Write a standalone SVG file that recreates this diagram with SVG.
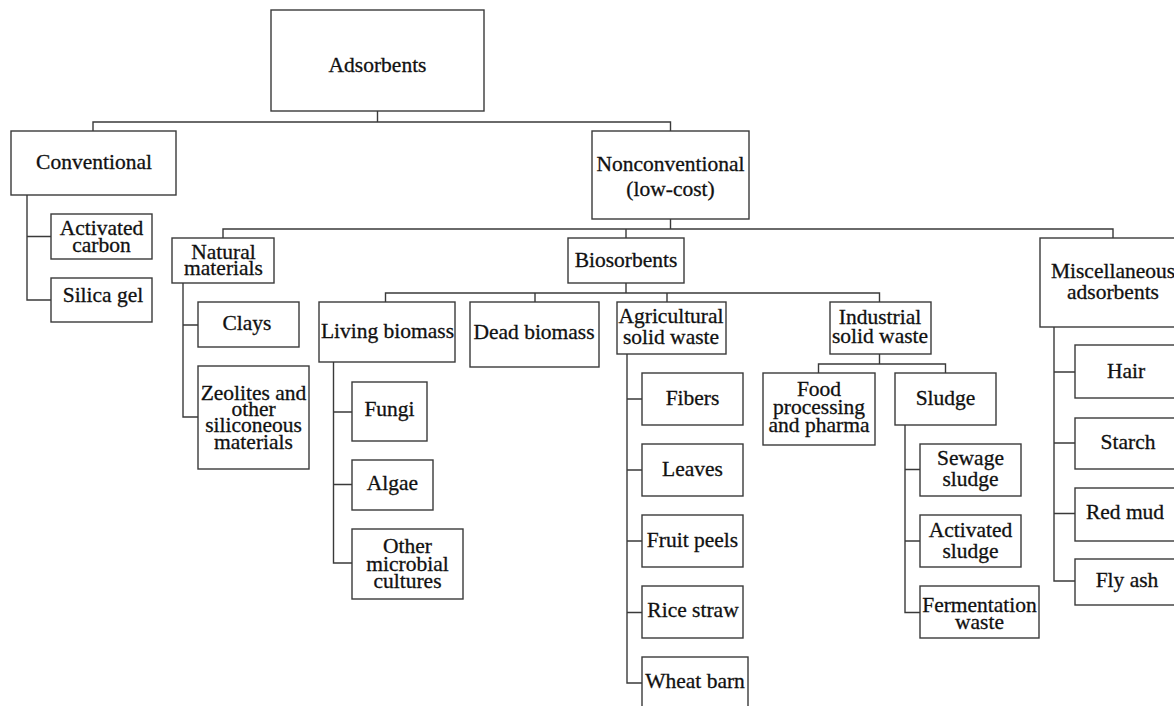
<svg xmlns="http://www.w3.org/2000/svg" width="1174" height="706" viewBox="0 0 1174 706">
<style>
.box{fill:#fff;stroke:#3a3a3a;stroke-width:1.4}
.ln{fill:none;stroke:#3a3a3a;stroke-width:1.4}
text{font-family:"Liberation Serif","Times New Roman",serif;font-size:21.5px;fill:#111;stroke:#111;stroke-width:0.3;text-anchor:middle}
</style>
<rect width="1174" height="706" fill="#fff"/>
<g id="connectors" class="ln">
<path d="M377.5,111V122 M93,131V122H670.5V131"/>
<path d="M27,195V300H51 M27,236.5H51"/>
<path d="M670.5,219V229 M223,238V229H1113V238 M626,229V238"/>
<path d="M183,283V417H198 M183,325H198"/>
<path d="M626,283V293 M385.5,302V293H879.5V302 M535,293V302 M667,293V302"/>
<path d="M1054,327V581H1075 M1054,372H1075 M1054,443H1075 M1054,513.5H1075"/>
<path d="M333.5,362V563H352 M333.5,412H352 M333.5,484.5H352"/>
<path d="M627,354V683H642 M627,399H642 M627,470H642 M627,541H642 M627,612.5H642"/>
<path d="M879.5,354V364 M818.5,373V364H945.5V373"/>
<path d="M905,425V612.5H920 M905,469.5H920 M905,541H920"/>
</g>
<g id="n-adsorbents"><rect class="box" x="271" y="10" width="213" height="101"/><text x="377.5" y="72">Adsorbents</text></g>
<g id="n-conventional"><rect class="box" x="11" y="131" width="165" height="64"/><text x="94" y="169">Conventional</text></g>
<g id="n-nonconventional"><rect class="box" x="592" y="131" width="157" height="88"/><text x="670.5" y="171">Nonconventional</text><text x="670.5" y="196">(low-cost)</text></g>
<g id="n-activated-carbon"><rect class="box" x="51" y="214" width="101" height="45"/><text x="101.5" y="235">Activated</text><text x="101.5" y="252">carbon</text></g>
<g id="n-silica-gel"><rect class="box" x="51" y="278" width="101" height="44"/><text x="103" y="302">Silica gel</text></g>
<g id="n-natural"><rect class="box" x="172" y="238" width="102" height="45"/><text x="223.5" y="259">Natural</text><text x="223.5" y="275">materials</text></g>
<g id="n-biosorbents"><rect class="box" x="568" y="238" width="116" height="45"/><text x="626" y="267">Biosorbents</text></g>
<g id="n-misc"><rect class="box" x="1040" y="238" width="150" height="89"/><text x="1113" y="278">Miscellaneous</text><text x="1113" y="299">adsorbents</text></g>
<g id="n-clays"><rect class="box" x="198" y="302" width="101" height="45"/><text x="247" y="330">Clays</text></g>
<g id="n-zeolites"><rect class="box" x="198" y="366" width="111" height="103"/><text x="253.5" y="400">Zeolites and</text><text x="253.5" y="416">other</text><text x="253.5" y="432">siliconeous</text><text x="253.5" y="449">materials</text></g>
<g id="n-living"><rect class="box" x="319" y="302" width="136" height="60"/><text x="387.5" y="338">Living biomass</text></g>
<g id="n-dead"><rect class="box" x="470" y="302" width="129" height="65"/><text x="534" y="339">Dead biomass</text></g>
<g id="n-agricultural"><rect class="box" x="617" y="302" width="109" height="52"/><text x="671" y="323">Agricultural</text><text x="671" y="344">solid waste</text></g>
<g id="n-industrial"><rect class="box" x="830" y="302" width="101" height="52"/><text x="880" y="324">Industrial</text><text x="880" y="343">solid waste</text></g>
<g id="n-fungi"><rect class="box" x="352" y="382" width="75" height="59"/><text x="389.5" y="416">Fungi</text></g>
<g id="n-algae"><rect class="box" x="352" y="460" width="81" height="50"/><text x="392.5" y="490">Algae</text></g>
<g id="n-other-microbial"><rect class="box" x="352" y="529" width="111" height="70"/><text x="407.5" y="553">Other</text><text x="407.5" y="571">microbial</text><text x="407.5" y="588">cultures</text></g>
<g id="n-fibers"><rect class="box" x="642" y="373" width="101" height="52"/><text x="692.5" y="405">Fibers</text></g>
<g id="n-leaves"><rect class="box" x="642" y="444" width="101" height="52"/><text x="692.5" y="476">Leaves</text></g>
<g id="n-fruit-peels"><rect class="box" x="642" y="515" width="101" height="52"/><text x="692.5" y="547">Fruit peels</text></g>
<g id="n-rice-straw"><rect class="box" x="642" y="586" width="101" height="52"/><text x="693" y="617">Rice straw</text></g>
<g id="n-wheat-barn"><rect class="box" x="642" y="657" width="106" height="60"/><text x="695" y="688">Wheat barn</text></g>
<g id="n-food"><rect class="box" x="763" y="373" width="112" height="72"/><text x="819" y="396">Food</text><text x="819" y="414">processing</text><text x="819" y="432">and pharma</text></g>
<g id="n-sludge"><rect class="box" x="895" y="373" width="101" height="52"/><text x="945.5" y="405">Sludge</text></g>
<g id="n-sewage"><rect class="box" x="920" y="444" width="101" height="52"/><text x="970.5" y="465">Sewage</text><text x="970.5" y="486">sludge</text></g>
<g id="n-activated-sludge"><rect class="box" x="920" y="515" width="101" height="52"/><text x="970.5" y="537">Activated</text><text x="970.5" y="558">sludge</text></g>
<g id="n-fermentation"><rect class="box" x="920" y="586" width="119" height="52"/><text x="979.5" y="612">Fermentation</text><text x="979.5" y="629">waste</text></g>
<g id="n-hair"><rect class="box" x="1075" y="345" width="110" height="53"/><text x="1126" y="378">Hair</text></g>
<g id="n-starch"><rect class="box" x="1075" y="418" width="110" height="51"/><text x="1128" y="449">Starch</text></g>
<g id="n-red-mud"><rect class="box" x="1075" y="488" width="110" height="53"/><text x="1125" y="519">Red mud</text></g>
<g id="n-fly-ash"><rect class="box" x="1075" y="559" width="110" height="46"/><text x="1127" y="587">Fly ash</text></g>
</svg>
